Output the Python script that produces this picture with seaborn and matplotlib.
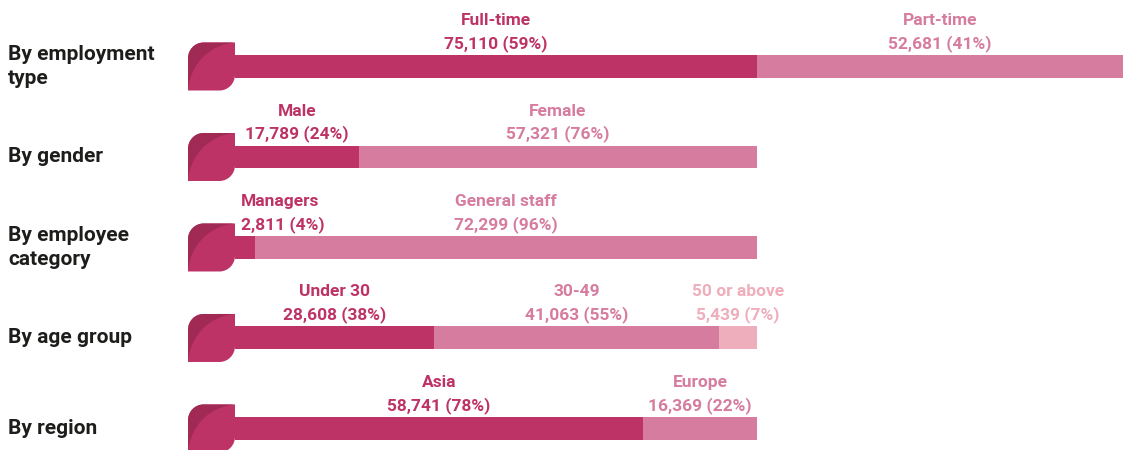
import seaborn as sns
import matplotlib.pyplot as plt
import pandas as pd
from matplotlib import font_manager
from matplotlib.path import Path
from matplotlib.patches import PathPatch

# Data
rows = ["By employment\ntype", "By gender", "By employee\ncategory", "By age group", "By region"]
segment_names = [["Full-time", "Part-time"],
                 ["Male", "Female"],
                 ["Managers", "General staff"],
                 ["Under 30", "30-49", "50 or above"],
                 ["Asia", "Europe"]]
segment_values = [[75110, 52681],
                  [17789, 57321],
                  [2811, 72299],
                  [28608, 41063, 5439],
                  [58741, 16369]]
segment_pcts = [[59, 41],
                [24, 76],
                [4, 96],
                [38, 55, 7],
                [78, 22]]

colors = ["#BE3366", "#D67C9F", "#EEAEBB"]
icon_dark = "#A12A55"


# Font: narrow face if available
def pick_font(names):
    for n in names:
        try:
            font_manager.findfont(n, fallback_to_default=False)
            return n
        except Exception:
            pass
    return "DejaVu Sans"


sns.set_style("white")
font = pick_font(["Liberation Sans Narrow", "Roboto"])
plt.rcParams["font.family"] = [font, "DejaVu Sans"]

# Long table: cumulative ends per segment
records = []
for r, names, vals, pcts in zip(rows, segment_names, segment_values, segment_pcts):
    cum = 0
    for k, (n, v, p) in enumerate(zip(names, vals, pcts)):
        records.append(dict(row=r, seg=k, name=n, value=v, pct=p, start=cum, end=cum + v))
        cum += v
df = pd.DataFrame(records)

W, H = 1125, 450
fig = plt.figure(figsize=(W / 100, H / 100), dpi=100)
ax = fig.add_axes([235 / W, 0, 890 / W, 1])
bar_h = 0.254

# Stacked bars: draw cumulative ends, longest first
for k in sorted(df["seg"].unique(), reverse=True):
    sub = df[df["seg"] == k]
    sns.barplot(data=sub, x="end", y="row", order=rows, color=colors[k], saturation=1,
                width=bar_h, orient="h", errorbar=None, ax=ax, linewidth=0)

ax.set_xlim(0, 128100)
ax.set_ylim(4.238, -0.735)
ax.axis("off")

# Segment labels
for _, d in df.iterrows():
    pos = rows.index(d["row"])
    top = pos - bar_h / 2
    if d["seg"] == 0 and d["pct"] < 10:
        x, ha, dx = d["start"], "left", 6
    else:
        x, ha, dx = d["start"] + d["value"] / 2, "center", 0
    c = colors[d["seg"]]
    ax.annotate(f"{d['value']:,} ({d['pct']}%)", (x, top), xytext=(dx, 7),
                textcoords="offset pixels", ha=ha, va="baseline", color=c,
                fontsize=12.5, fontweight="bold")
    ax.annotate(d["name"], (x, top), xytext=(dx, 30),
                textcoords="offset pixels", ha=ha, va="baseline", color=c,
                fontsize=12.5, fontweight="bold")

# Overlay for icons and row labels, in pixel units
ov = fig.add_axes([0, 0, 1, 1], zorder=-1)
ov.set_xlim(0, W)
ov.set_ylim(0, H)
ov.axis("off")
fig.canvas.draw()

k4 = 0.5523
r = 0.33
shape_v = [(0, 0), (1 - r, 0), (1 - r + r * k4, 0), (1, r - r * k4), (1, r), (1, 1),
           (r, 1), (r - r * k4, 1), (0, 1 - r + r * k4), (0, 1 - r), (0, 0)]
shape_c = [Path.MOVETO, Path.LINETO, Path.CURVE4, Path.CURVE4, Path.CURVE4, Path.LINETO,
           Path.LINETO, Path.CURVE4, Path.CURVE4, Path.CURVE4, Path.CLOSEPOLY]
leaf_v = [(0, 0), (0.05, 0.55), (0.45, 0.95), (1, 1),
          (r, 1), (r - r * k4, 1), (0, 1 - r + r * k4), (0, 1 - r), (0, 0)]
leaf_c = [Path.MOVETO, Path.CURVE4, Path.CURVE4, Path.CURVE4,
          Path.LINETO, Path.CURVE4, Path.CURVE4, Path.CURVE4, Path.CLOSEPOLY]

icon_w, icon_h = 47, 48
for i, label in enumerate(rows):
    _, cy = ax.transData.transform((0, i))
    x0, y0 = 188, cy - icon_h / 2
    tf = lambda pts: [(x0 + u * icon_w, y0 + v * icon_h) for u, v in pts]
    ov.add_patch(PathPatch(Path(tf(shape_v), shape_c), facecolor=colors[0], lw=0))
    ov.add_patch(PathPatch(Path(tf(leaf_v), leaf_c), facecolor=icon_dark, lw=0))
    ov.text(8, cy, label, ha="left", va="center", fontsize=15, fontweight="bold",
            color="#1d1d1b", linespacing=1.3)

fig.savefig("out.png", dpi=100)
